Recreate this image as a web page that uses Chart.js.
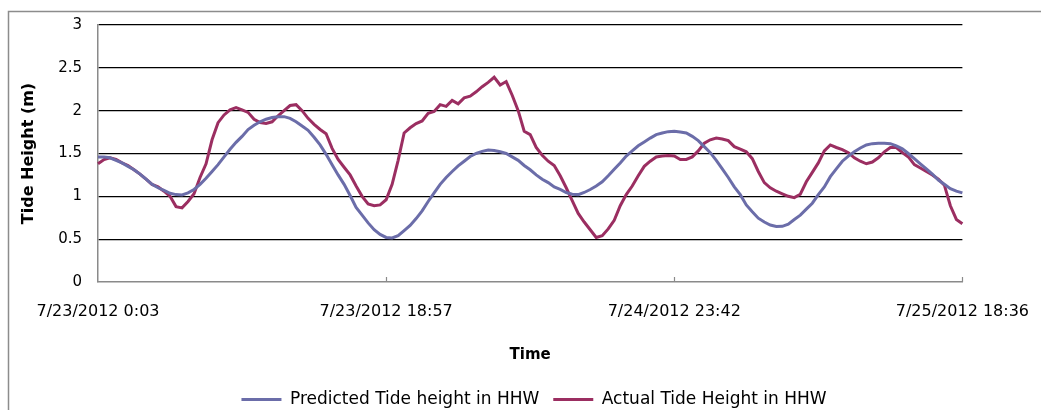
<!DOCTYPE html>
<html>
<head>
<meta charset="utf-8">
<script src="https://cdn.jsdelivr.net/npm/chart.js@4/dist/chart.umd.min.js"></script>
<style>
  html, body { margin: 0; padding: 0; background: #fff; }
  #wrap { width: 1041px; height: 410px; position: relative; }
</style>
</head>
<body>
<div id="wrap"><canvas id="tideChart"></canvas></div>
<script>
// tick labels shown on the time axis, one every pointsPerTick readings
const tickLabels = ["7/23/2012 0:03", "7/23/2012 18:57", "7/24/2012 23:42", "7/25/2012 18:36"];
const pointsPerTick = 48;

// predicted tide height in HHW (m)
const predicted = [
  1.46, 1.46, 1.45, 1.42, 1.39, 1.35, 1.31, 1.26, 1.20, 1.14,
  1.10, 1.07, 1.035, 1.02, 1.017, 1.04, 1.08, 1.14, 1.21, 1.29,
  1.37, 1.46, 1.55, 1.63, 1.70, 1.78, 1.83, 1.87, 1.90, 1.92,
  1.93, 1.93, 1.91, 1.87, 1.82, 1.77, 1.69, 1.60, 1.49, 1.37,
  1.25, 1.14, 1.01, 0.87, 0.78, 0.69, 0.61, 0.555, 0.52, 0.515,
  0.54, 0.60, 0.66, 0.74, 0.83, 0.94, 1.04, 1.14, 1.22, 1.29,
  1.355, 1.41, 1.465, 1.50, 1.525, 1.54, 1.535, 1.52, 1.50, 1.46,
  1.42, 1.36, 1.31, 1.25, 1.20, 1.16, 1.11, 1.08, 1.045, 1.025,
  1.02, 1.045, 1.08, 1.12, 1.17, 1.24, 1.315, 1.39, 1.47, 1.53,
  1.59, 1.635, 1.68, 1.72, 1.74, 1.755, 1.76, 1.75, 1.74, 1.70,
  1.65, 1.58, 1.51, 1.42, 1.32, 1.22, 1.11, 1.02, 0.90, 0.82,
  0.745, 0.70, 0.665, 0.647, 0.65, 0.675, 0.73, 0.78, 0.85, 0.92,
  1.02, 1.11, 1.23, 1.32, 1.41, 1.47, 1.52, 1.565, 1.60, 1.615,
  1.62, 1.62, 1.615, 1.59, 1.555, 1.50, 1.44, 1.38, 1.32, 1.26,
  1.19, 1.14, 1.09, 1.06, 1.04
];

// measured tide height in HHW (m)
const actual = [
  1.38, 1.43, 1.45, 1.43, 1.39, 1.36, 1.31, 1.26, 1.20, 1.14,
  1.11, 1.06, 1.00, 0.88, 0.865, 0.94, 1.03, 1.22, 1.38, 1.66,
  1.86, 1.95, 2.01, 2.035, 2.01, 1.98, 1.90, 1.86, 1.85, 1.87,
  1.94, 2.00, 2.06, 2.07, 2.00, 1.91, 1.84, 1.78, 1.73, 1.56,
  1.43, 1.34, 1.25, 1.12, 1.00, 0.91, 0.89, 0.90, 0.96, 1.14,
  1.42, 1.74, 1.80, 1.85, 1.88, 1.97, 1.99, 2.07, 2.05, 2.12,
  2.08, 2.15, 2.17, 2.22, 2.28, 2.33, 2.39, 2.30, 2.34, 2.18,
  2.00, 1.76, 1.72, 1.57, 1.48, 1.41, 1.36, 1.24, 1.10, 0.95,
  0.80, 0.70, 0.61, 0.52, 0.54, 0.62, 0.72, 0.89, 1.02, 1.12,
  1.24, 1.35, 1.41, 1.46, 1.47, 1.476, 1.47, 1.43, 1.43, 1.46,
  1.53, 1.62, 1.66, 1.68, 1.67, 1.65, 1.58, 1.55, 1.52, 1.44,
  1.29, 1.16, 1.10, 1.06, 1.03, 1.00, 0.985, 1.025, 1.17, 1.28,
  1.39, 1.53, 1.60, 1.57, 1.545, 1.51, 1.45, 1.41, 1.38, 1.40,
  1.45, 1.52, 1.57, 1.57, 1.51, 1.46, 1.37, 1.33, 1.29, 1.25,
  1.20, 1.13, 0.89, 0.73, 0.68
];

const categories = predicted.map((_, i) => i);

const FONT = "'DejaVu Sans', sans-serif";
const AXIS_GREY = "#8a8a8a";

// white background, outer frame and the small inside tick marks on the time axis
const framePlugin = {
  id: "frame",
  beforeDraw(chart) {
    const ctx = chart.ctx;
    ctx.save();
    ctx.fillStyle = "#fff";
    ctx.fillRect(0, 0, chart.width, chart.height);
    ctx.strokeStyle = "#8c8c8c";
    ctx.lineWidth = 1.5;
    ctx.beginPath();
    ctx.moveTo(8.5, chart.height);
    ctx.lineTo(8.5, 11.5);
    ctx.lineTo(chart.width, 11.5);
    ctx.stroke();
    ctx.restore();
  },
  afterDraw(chart) {
    const ctx = chart.ctx;
    const x = chart.scales.x;
    ctx.save();
    ctx.strokeStyle = AXIS_GREY;
    ctx.lineWidth = 1.2;
    ctx.beginPath();
    for (let i = pointsPerTick; i < categories.length; i += pointsPerTick) {
      const px = Math.round(x.getPixelForValue(i)) + 0.5;
      ctx.moveTo(px, x.top);
      ctx.lineTo(px, x.top - 5);
    }
    ctx.stroke();
    ctx.restore();
  }
};

const ctx = document.getElementById("tideChart").getContext("2d");
new Chart(ctx, {
  type: "line",
  data: {
    labels: categories,
    datasets: [
      {
        label: "Predicted Tide height in HHW",
        data: predicted,
        borderColor: "#6b6da9",
        backgroundColor: "#6b6da9",
        borderWidth: 3,
        pointRadius: 0,
        tension: 0
      },
      {
        label: "Actual Tide Height in HHW",
        data: actual,
        borderColor: "#9b2e61",
        backgroundColor: "#9b2e61",
        borderWidth: 3,
        pointRadius: 0,
        tension: 0
      }
    ]
  },
  options: {
    responsive: true,
    maintainAspectRatio: false,
    animation: false,
    // right padding is negative so the legend centres under the whole frame, the spacer axis keeps the plot edge
    layout: { padding: { left: 19, right: -8, top: 22, bottom: -8 } },
    plugins: {
      legend: {
        position: "bottom",
        labels: {
          color: "#000",
          font: { family: FONT, size: 17 },
          boxWidth: 40,
          boxHeight: 3,
          padding: 14,
          generateLabels(chart) {
            return Chart.defaults.plugins.legend.labels.generateLabels(chart)
              .map(l => Object.assign(l, { lineWidth: 0 }));
          }
        }
      },
      tooltip: { enabled: false }
    },
    scales: {
      x: {
        type: "category",
        grid: { display: false },
        border: { display: true, color: AXIS_GREY, width: 1.5 },
        ticks: {
          autoSkip: false,
          maxRotation: 0,
          padding: 12,
          color: "#000",
          font: { family: FONT, size: 16 },
          callback: (v, i) => (i % pointsPerTick === 0 ? tickLabels[i / pointsPerTick] : null)
        },
        title: {
          display: true,
          text: "Time",
          color: "#000",
          font: { family: FONT, size: 15, weight: "bold" },
          padding: { top: 0, bottom: 13 }
        },
        afterFit(scale) { scale.height = 95; }
      },
      y: {
        min: 0,
        max: 3,
        grid: {
          drawTicks: false,
          lineWidth: 1.3,
          color: c => (c.tick && c.tick.value === 0 ? "rgba(0,0,0,0)" : "#000")
        },
        border: { display: true, color: AXIS_GREY, width: 1.5 },
        ticks: {
          stepSize: 0.5,
          padding: 16,
          color: "#000",
          font: { family: FONT, size: 15 },
          callback: v => String(v)
        },
        title: {
          display: true,
          text: "Tide Height (m)",
          color: "#000",
          font: { family: FONT, size: 16, weight: "bold" },
          padding: { top: 0, bottom: 0 }
        },
        afterFit(scale) { scale.width = 79; }
      },
      spacer: {
        type: "linear",
        position: "right",
        display: true,
        grid: { display: false },
        border: { display: false },
        ticks: { display: false },
        afterFit(scale) { scale.width = 85; }
      }
    }
  },
  plugins: [framePlugin]
});
</script>
</body>
</html>
